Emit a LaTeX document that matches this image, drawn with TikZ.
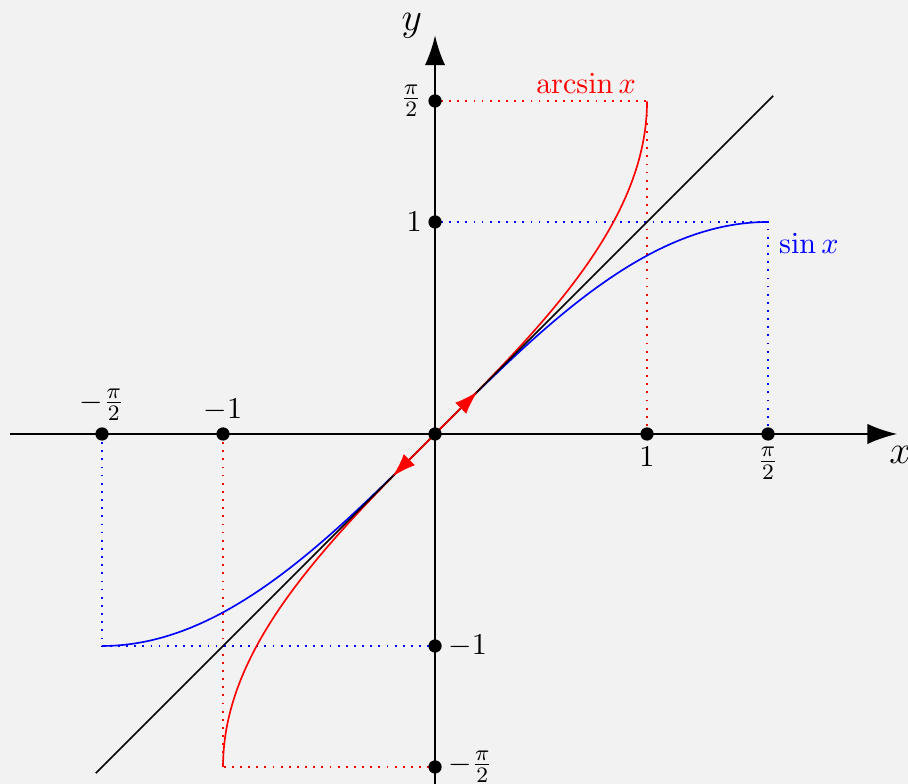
\documentclass[tikz,border=0pt]{standalone}
\usetikzlibrary{arrows.meta}
\definecolor{bg}{HTML}{F2F2F2}
\begin{document}
\begin{tikzpicture}[x=2.7cm,y=2.7cm,
  every node/.style={font=\fontsize{10.95}{13.6}\selectfont},
  every label/.style={font=\fontsize{10.95}{13.6}\selectfont},
  dotpt/.style={circle,fill=black,inner sep=0pt,minimum size=4.8pt},
  axis/.style={line width=0.75pt,-{Latex[length=3.8mm,width=2.6mm]}},
  guide/.style={line width=0.65pt,dash pattern=on 0.65pt off 2.3pt},
  curve/.style={line width=0.6pt},
  redarrow/.style={red,line width=0.6pt,-{Latex[length=3mm,width=2mm]}},
  lbl/.style={inner sep=2pt}]
\fill[bg] (-2.052,-1.651) rectangle (2.231,2.047);
\useasboundingbox (-2.052,-1.651) rectangle (2.231,2.047);
% coordinates
\coordinate (O) at (0,0);
\coordinate (xl) at (-2.005,0);
\coordinate (xr) at (2.18,0);
\coordinate (yb) at (0,-1.66);
\coordinate (yt) at (0,1.88);
\coordinate (P1) at (1,1.5708);
\coordinate (M1) at (-1,-1.5708);
\coordinate (S1) at (1.5708,1);
\coordinate (T1) at (-1.5708,-1);
\coordinate (L1) at (-1.6,-1.6);
\coordinate (L2) at (1.595,1.595);
\coordinate (A1) at (0.2,0.2);
\coordinate (A2) at (-0.2,-0.2);
% guides
\draw[guide,blue] (1.5708,0) -- (S1) -- (0,1);
\draw[guide,blue] (-1.5708,0) -- (T1) -- (0,-1);
\draw[guide,red] (1,0) -- (P1) -- (0,1.5708);
\draw[guide,red] (-1,0) -- (M1) -- (0,-1.5708);
% curves
\draw[curve,blue] plot[domain=-1.5708:1.5708,samples=120,smooth] ({\x},{sin(\x r)});
\draw[curve,red] plot[domain=-1.5708:1.5708,samples=160,smooth] ({sin(\x r)},{\x});
\draw[line width=0.6pt] (L1) -- (L2);
% axes
\draw[axis] (xl) -- (xr);
\draw[axis] (yb) -- (yt);
\node[font=\Large] (xlab) at (2.195,-0.1) {$x$};
\node[font=\Large] (ylab) at (-0.11,1.925) {$y$};
% red arrows
\draw[redarrow] (O) -- (A1);
\draw[redarrow] (O) -- (A2);
% dots
\node[dotpt] (d0) at (O) {};
\node[dotpt,label={[lbl]above:$-\frac{\pi}{2}$}] (dx1) at (-1.5708,0) {};
\node[dotpt,label={[lbl]above:$-1$}] (dx2) at (-1,0) {};
\node[dotpt,label={[lbl]below:$1$}] (dx3) at (1,0) {};
\node[dotpt,label={[lbl]below:$\frac{\pi}{2}$}] (dx4) at (1.5708,0) {};
\node[dotpt,label={[lbl]left:$\frac{\pi}{2}$}] (dy1) at (0,1.5708) {};
\node[dotpt,label={[lbl]left:$1$}] (dy2) at (0,1) {};
\node[dotpt,label={[lbl]right:$-1$}] (dy3) at (0,-1) {};
\node[dotpt,label={[lbl]right:$-\frac{\pi}{2}$}] (dy4) at (0,-1.5708) {};
% curve labels
\node[red,anchor=south east,inner sep=1pt] (arclab) at ([xshift=-1mm,yshift=0.5mm]P1) {$\arcsin x$};
\node[blue,anchor=north west,inner sep=1pt] (sinlab) at ([xshift=1mm,yshift=-1mm]S1) {$\sin x$};
\end{tikzpicture}
\end{document}
